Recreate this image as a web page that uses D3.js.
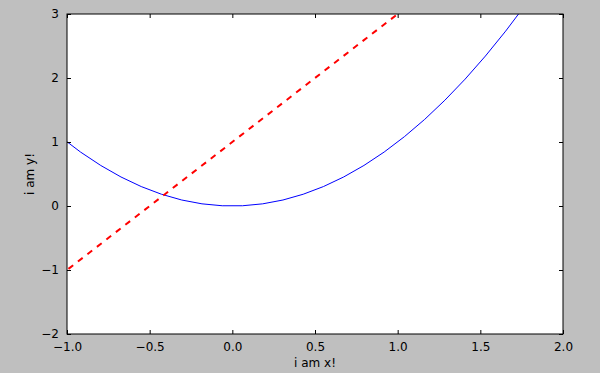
<!DOCTYPE html>
<html>
<head>
<meta charset="utf-8">
<script src="https://cdn.jsdelivr.net/npm/d3@7"></script>
<style>
  body { margin: 0; background: #bfbfbf; }
  svg { display: block; }
  text { font-family: "DejaVu Sans", sans-serif; fill: #000; }
</style>
</head>
<body>
<div id="chart"></div>
<script>
// data
var curveX = [-1.0408, -0.9184, -0.7959, -0.6735, -0.551, -0.4286, -0.3061, -0.1837, -0.0612,
  0.0612, 0.1837, 0.3061, 0.4286, 0.551, 0.6735, 0.7959, 0.9184, 1.0408, 1.1633, 1.2857,
  1.4082, 1.5306, 1.6531, 1.7755];
var curveY = [1.0833, 0.8434, 0.6335, 0.4536, 0.3036, 0.1837, 0.0937, 0.0337, 0.0037,
  0.0037, 0.0337, 0.0937, 0.1837, 0.3036, 0.4536, 0.6335, 0.8434, 1.0833, 1.3532, 1.6531,
  1.9829, 2.3428, 2.7326, 3.1524];
var lineX = [-3, 3];
var lineY = [-5, 7];
var xTicks = [-1.0, -0.5, 0.0, 0.5, 1.0, 1.5, 2.0];
var yTicks = [-2, -1, 0, 1, 2, 3];

var W = 600, H = 373;
var margin = { top: 14, right: 37, bottom: 39, left: 67 },
  width = W - margin.left - margin.right,
  height = H - margin.top - margin.bottom;

var svg = d3.select("#chart").append("svg")
  .attr("width", W)
  .attr("height", H);

var g = svg.append("g")
  .attr("transform", "translate(" + margin.left + "," + margin.top + ")");

var x = d3.scaleLinear().domain([-1, 2]).range([0, width]);
var y = d3.scaleLinear().domain([-2, 3]).range([height, 0]);

g.append("rect")
  .attr("width", width)
  .attr("height", height)
  .attr("fill", "white");

g.append("clipPath").attr("id", "clip")
  .append("rect").attr("width", width).attr("height", height);

var line = d3.line()
  .x(function (d) { return x(d[0]); })
  .y(function (d) { return y(d[1]); });

var plot = g.append("g").attr("clip-path", "url(#clip)");

plot.append("path")
  .datum(curveX.map(function (v, i) { return [v, curveY[i]]; }))
  .attr("d", line)
  .attr("fill", "none")
  .attr("stroke", "#0000ff")
  .attr("stroke-width", 1);

plot.append("path")
  .datum(lineX.map(function (v, i) { return [v, lineY[i]]; }))
  .attr("d", line)
  .attr("fill", "none")
  .attr("stroke", "#ff0000")
  .attr("stroke-width", 2)
  .attr("stroke-dasharray", "6,6");

// axes, ticks inside on all sides (classic look)
function fmtX(d) { return d.toFixed(1).replace("-", "\u2212"); }
function fmtY(d) { return String(d).replace("-", "\u2212"); }

var xb = g.append("g").attr("transform", "translate(0," + height + ")")
  .call(d3.axisBottom(x).tickValues(xTicks).tickFormat(fmtX).tickSizeInner(-4).tickSizeOuter(0).tickPadding(8));
var xt = g.append("g")
  .call(d3.axisTop(x).tickValues(xTicks).tickFormat("").tickSizeInner(-4).tickSizeOuter(0));
var yl = g.append("g")
  .call(d3.axisLeft(y).tickValues(yTicks).tickFormat(fmtY).tickSizeInner(-4).tickSizeOuter(0).tickPadding(8));
var yr = g.append("g").attr("transform", "translate(" + width + ",0)")
  .call(d3.axisRight(y).tickValues(yTicks).tickFormat("").tickSizeInner(-4).tickSizeOuter(0));

[xb, xt, yl, yr].forEach(function (a) {
  a.select(".domain").remove();
  a.selectAll("text").style("font-size", "12px").style("font-family", "'DejaVu Sans', sans-serif").attr("fill", "#000");
  a.selectAll("line").attr("stroke", "#000");
});

g.append("rect")
  .attr("width", width)
  .attr("height", height)
  .attr("fill", "none")
  .attr("stroke", "#000")
  .attr("stroke-width", 1);

g.append("text")
  .attr("x", width / 2)
  .attr("y", height + 33)
  .attr("text-anchor", "middle")
  .style("font-size", "12px")
  .text("i am x!");

g.append("text")
  .attr("transform", "translate(-33," + height / 2 + ") rotate(-90)")
  .attr("text-anchor", "middle")
  .style("font-size", "12px")
  .text("i am y!");
</script>
</body>
</html>
